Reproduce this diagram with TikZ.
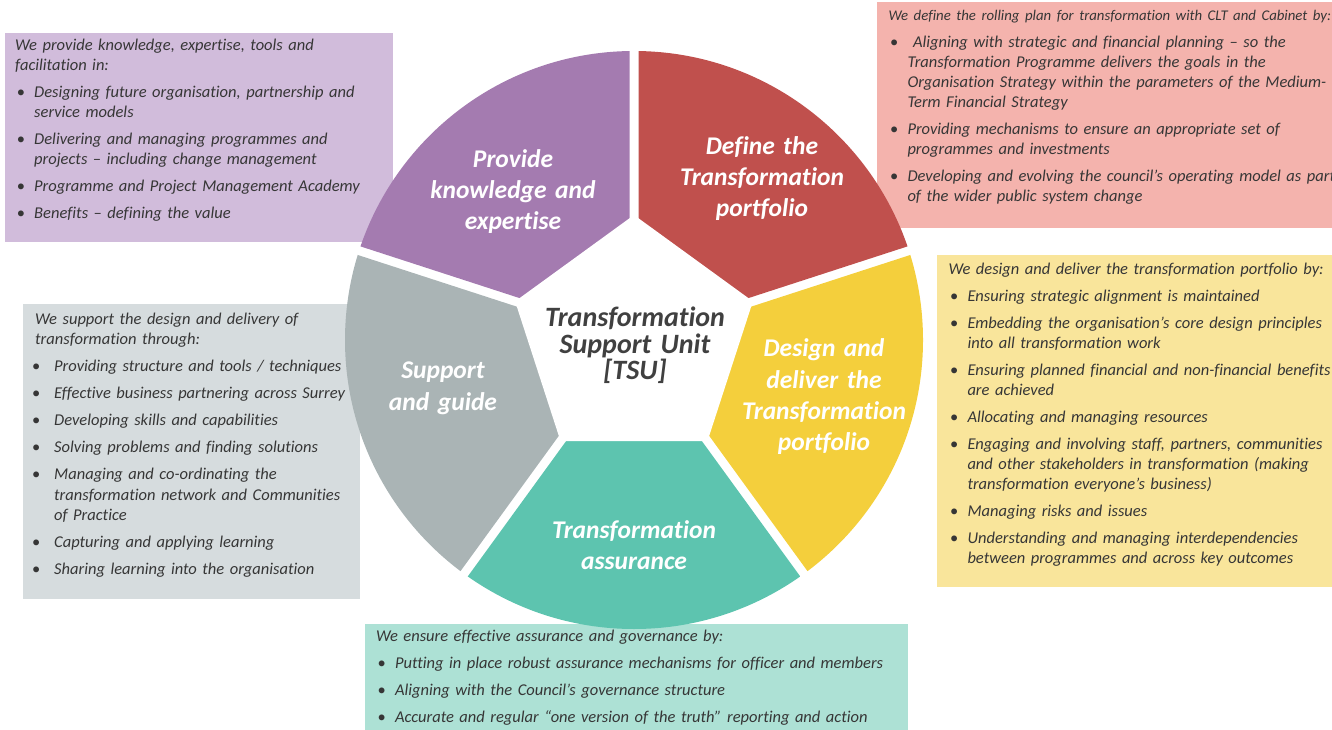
\documentclass[tikz,border=0pt]{standalone}
\usepackage{fontspec}
\setmainfont{Carlito}[Ligatures=NoCommon]
\usetikzlibrary{calc}

\definecolor{wPurple}{HTML}{A47BB0}
\definecolor{wRed}{HTML}{C0504D}
\definecolor{wYellow}{HTML}{F4CF3C}
\definecolor{wTeal}{HTML}{5DC4AF}
\definecolor{wGray}{HTML}{AAB4B5}
\definecolor{bPurple}{HTML}{D1BCDB}
\definecolor{bRed}{HTML}{F4B3AD}
\definecolor{bYellow}{HTML}{F9E59B}
\definecolor{bGray}{HTML}{D6DCDE}
\definecolor{bTeal}{HTML}{ADE1D5}
\definecolor{bodytxt}{HTML}{363636}
\definecolor{hubtxt}{HTML}{404040}

% bullet layout inside the description panels
\newlength\itind \setlength\itind{19pt}
\newlength\bulx  \setlength\bulx{1.7pt}
\newcommand\bul[1]{\par\vspace{7pt}\hangindent=\itind\hangafter=1\noindent
  \makebox[\itind][l]{\hspace{\bulx}{\upshape\textbullet}}#1\par}

% one coloured piece of the wheel, between two spoke angles
\newcommand\wheelpiece[3]{%
  \pgfmathsetmacro\wpmid{(#1+#2)/2}%
  \coordinate (wpq) at ($(O)+(\wpmid:7.66pt)$);
  \begin{scope}
    \clip (wpq) -- ($(wpq)+(#1:450pt)$) -- ($(wpq)+(\wpmid:600pt)$)
      -- ($(wpq)+(#2:450pt)$) -- cycle;
    \fill[#3] (O) circle[radius=289pt];
  \end{scope}}

\tikzset{
  panel/.style={anchor=base west, inner sep=0pt, text width=600pt,
    text=bodytxt, font=\fontsize{16.5}{20}\selectfont\itshape},
  label/.style={anchor=base, inner sep=0pt, text width=260pt, align=center,
    text=white, font=\fontsize{25.5}{31}\selectfont\bfseries\itshape},
  hub/.style={anchor=base, inner sep=0pt, text width=260pt, align=center,
    text=hubtxt, font=\fontsize{28}{26.5}\selectfont\bfseries\itshape},
}

\begin{document}
\begin{tikzpicture}[x=1pt,y=1pt]
\useasboundingbox (0,0) rectangle (1332,729);

% description panels
\fill[bPurple] (5,487) rectangle (393,696);
\fill[bRed]    (877,501) rectangle (1340,727);
\fill[bYellow] (937,142) rectangle (1340,474);
\fill[bGray]   (23,130) rectangle (360,425);
\fill[bTeal]   (365,-11) rectangle (908,105);

% the wheel
\coordinate (O) at (634,389);
\wheelpiece{18}{90}{wRed}
\wheelpiece{90}{162}{wPurple}
\wheelpiece{162}{234}{wGray}
\wheelpiece{234}{306}{wTeal}
\wheelpiece{306}{378}{wYellow}
\fill[white] ($(O)+(90:125pt)$) -- ($(O)+(162:125pt)$) -- ($(O)+(234:125pt)$)
  -- ($(O)+(306:125pt)$) -- ($(O)+(18:125pt)$) -- cycle;

% wheel labels
\node[hub] (hubtext) at (635,402) {Transformation\\Support Unit\\{[}TSU{]}};
\node[label] (lknow) at (513,561) {Provide\\knowledge and\\expertise};
\node[label] (ldefine) at (762,574) {Define the\\Transformation\\portfolio};
\node[label] (ldesign) at (824,372) {Design and\\deliver the\\Transformation\\portfolio};
\node[label] (lassure) at (634,191) {Transformation\\assurance};
\node[label] (lsupport) at (443,350) {Support\\and guide};

% panel texts
\node[panel] (tknow) at (15,678.3) {We provide knowledge, expertise, tools and\newline facilitation in:
  \bul{Designing future organisation, partnership and\newline service models}
  \bul{Delivering and managing programmes and\newline projects -- including change management}
  \bul{Programme and Project Management Academy}
  \bul{Benefits -- defining the value}};

\node[panel] (tdefine) at (888.3,708.3) {{\fontsize{14.8}{20}\selectfont We define the rolling plan for transformation with CLT and Cabinet by:}
  \bul{\ Aligning with strategic and financial planning -- so the\newline Transformation Programme delivers the goals in the\newline Organisation Strategy within the parameters of the Medium-\newline Term Financial Strategy}
  \bul{Providing mechanisms to ensure an appropriate set of\newline programmes and investments}
  \bul{Developing and evolving the council's operating model as part\newline of the wider public system change}};

\node[panel] (tdesign) at (948.3,454) {We design and deliver the transformation portfolio by:
  \bul{Ensuring strategic alignment is maintained}
  \bul{Embedding the organisation’s core design principles\newline into all transformation work}
  \bul{Ensuring planned financial and non-financial benefits\newline are achieved}
  \bul{Allocating and managing resources}
  \bul{Engaging and involving staff, partners, communities\newline and other stakeholders in transformation (making\newline transformation everyone’s business)}
  \bul{Managing risks and issues}
  \bul{Understanding and managing interdependencies\newline between programmes and across key outcomes}};

\node[panel] (tsupport) at (35,404) {\setlength\bulx{-3pt}We support the design and delivery of\newline transformation through:
  \bul{Providing structure and tools / techniques}
  \bul{Effective business partnering across Surrey}
  \bul{Developing skills and capabilities}
  \bul{Solving problems and finding solutions}
  \bul{Managing and co-ordinating the\newline transformation network and Communities\newline of Practice}
  \bul{Capturing and applying learning}
  \bul{Sharing learning into the organisation}};

\node[panel] (tassure) at (375.8,87.3) {We ensure effective assurance and governance by:
  \bul{Putting in place robust assurance mechanisms for officer and members}
  \bul{Aligning with the Council’s governance structure}
  \bul{Accurate and regular “one version of the truth” reporting and action}};
\end{tikzpicture}
\end{document}
